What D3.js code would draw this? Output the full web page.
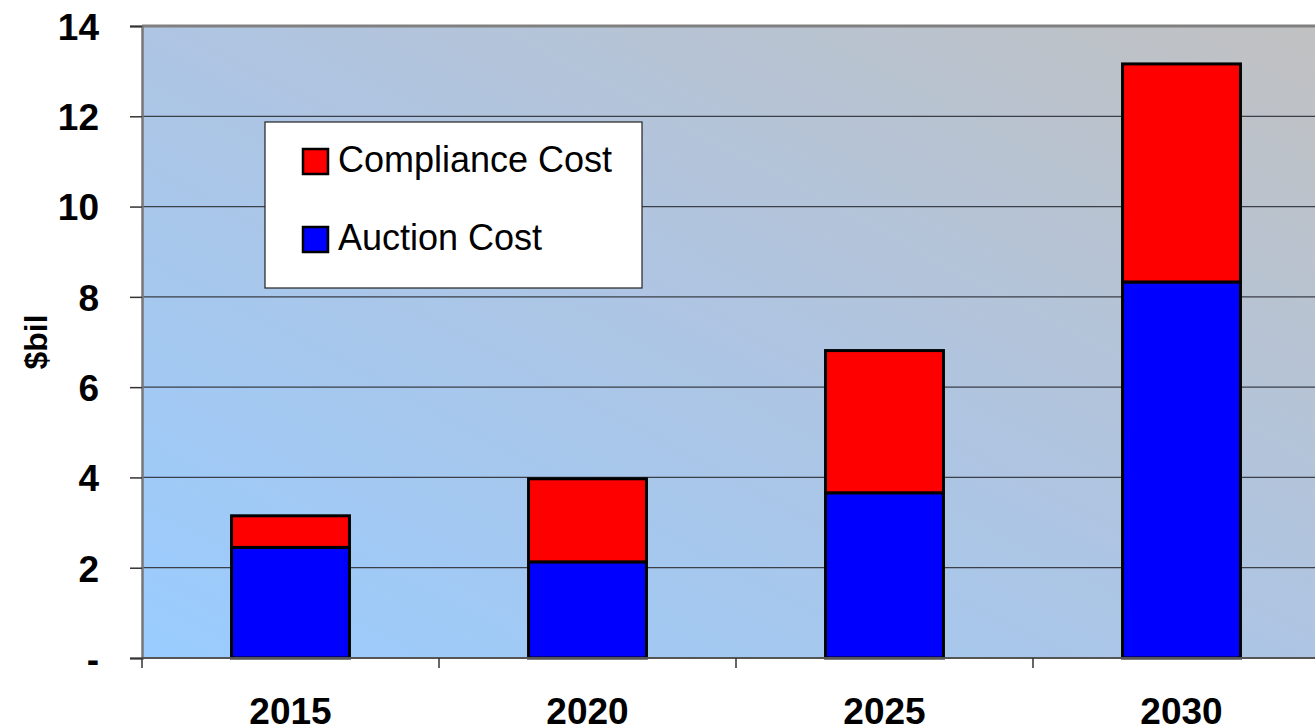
<!DOCTYPE html>
<html>
<head>
<meta charset="utf-8">
<script src="https://cdn.jsdelivr.net/npm/d3@7"></script>
<style>
  body { margin: 0; background: #fff; }
  svg { display: block; font-family: Arial, "Liberation Sans", sans-serif; }
</style>
</head>
<body>
<div id="chart"></div>
<script>
// Data
const years = ["2015", "2020", "2025", "2030"];
const auctionCost = [2.45, 2.13, 3.66, 8.33];
const complianceCost = [0.70, 1.84, 3.15, 4.83];
const yTicks = [0, 2, 4, 6, 8, 10, 12, 14];
const seriesNames = ["Compliance Cost", "Auction Cost"];
const seriesColors = { "Compliance Cost": "#ff0000", "Auction Cost": "#0000ff" };

// Dimensions
const W = 1315, H = 728;
const plot = { left: 142, top: 26, bottom: 658, right: 142 + 4 * 297 };

const svg = d3.select("#chart")
    .append("svg")
    .attr("width", W)
    .attr("height", H);

// Background gradient (bottom-left blue to top-right gray)
const defs = svg.append("defs");
const grad = defs.append("linearGradient")
    .attr("id", "bg")
    .attr("x1", 0).attr("y1", 1)
    .attr("x2", 1).attr("y2", 0);
grad.append("stop").attr("offset", "0%").attr("stop-color", "#99ccff");
grad.append("stop").attr("offset", "50%").attr("stop-color", "#aec5e3");
grad.append("stop").attr("offset", "100%").attr("stop-color", "#c1c1c1");

// Scales
const x = d3.scaleBand()
    .domain(years)
    .range([plot.left, plot.right])
    .paddingInner(0.603)
    .paddingOuter(0.3015);

const y = d3.scaleLinear()
    .domain([0, 14])
    .range([plot.bottom, plot.top]);

// Plot area
svg.append("rect")
    .attr("x", plot.left)
    .attr("y", plot.top)
    .attr("width", plot.right - plot.left)
    .attr("height", plot.bottom - plot.top)
    .attr("fill", "url(#bg)");

// Gridlines
svg.append("g")
    .selectAll("line")
    .data(yTicks.filter(d => d > 0 && d < 14))
    .enter()
    .append("line")
    .attr("x1", plot.left).attr("x2", plot.right)
    .attr("y1", d => y(d)).attr("y2", d => y(d))
    .attr("stroke", "#3a3f48")
    .attr("stroke-width", 1.2);

// Top border
svg.append("line")
    .attr("x1", plot.left).attr("x2", plot.right)
    .attr("y1", y(14)).attr("y2", y(14))
    .attr("stroke", "#808080")
    .attr("stroke-width", 3);

// Stacked bars
const stackData = years.map((yr, i) => ({
    year: yr,
    "Auction Cost": auctionCost[i],
    "Compliance Cost": complianceCost[i]
}));
const stack = d3.stack().keys(["Auction Cost", "Compliance Cost"]);
const layers = stack(stackData);

svg.append("g")
    .selectAll("g")
    .data(layers)
    .enter()
    .append("g")
    .attr("fill", d => seriesColors[d.key])
    .selectAll("rect")
    .data(d => d)
    .enter()
    .append("rect")
    .attr("x", d => x(d.data.year))
    .attr("y", d => y(d[1]))
    .attr("width", x.bandwidth())
    .attr("height", d => y(d[0]) - y(d[1]))
    .attr("stroke", "#000")
    .attr("stroke-width", 3);

// Y axis
const yAxis = d3.axisLeft(y)
    .tickValues(yTicks)
    .tickSize(12)
    .tickPadding(31)
    .tickFormat(d => d === 0 ? "-" : d);

const yG = svg.append("g")
    .attr("transform", `translate(${plot.left},0)`)
    .call(yAxis);
yG.select(".domain").attr("stroke", "#777").attr("stroke-width", 2.5);
yG.selectAll(".tick line").attr("stroke", "#333").attr("stroke-width", 1.5);
yG.selectAll(".tick text")
    .attr("fill", "#000")
    .attr("dy", "0.36em")
    .style("font-size", "37px")
    .style("font-weight", "bold");

// X axis
const xAxis = d3.axisBottom(x)
    .tickSize(0)
    .tickPadding(0);
const xG = svg.append("g")
    .attr("transform", `translate(0,${plot.bottom})`)
    .call(xAxis);
xG.select(".domain").remove();
xG.selectAll(".tick text")
    .attr("fill", "#000")
    .attr("y", 66)
    .attr("dy", 0)
    .style("font-size", "37px")
    .style("font-weight", "bold");

svg.append("line")
    .attr("x1", plot.left).attr("x2", plot.right)
    .attr("y1", plot.bottom).attr("y2", plot.bottom)
    .attr("stroke", "#555")
    .attr("stroke-width", 2);

// Category separator ticks
svg.append("g")
    .selectAll("line")
    .data(years)
    .enter()
    .append("line")
    .attr("x1", d => x(d) - x.step() * x.paddingOuter())
    .attr("x2", d => x(d) - x.step() * x.paddingOuter())
    .attr("y1", plot.bottom)
    .attr("y2", plot.bottom + 10)
    .attr("stroke", "#333")
    .attr("stroke-width", 1.5);

// Y axis label
svg.append("text")
    .attr("transform", `translate(47, ${(plot.top + plot.bottom) / 2}) rotate(-90)`)
    .attr("text-anchor", "middle")
    .style("font-size", "32px")
    .style("font-weight", "bold")
    .text("$bil");

// Legend
const legend = svg.append("g").attr("transform", "translate(265,122)");
legend.append("rect")
    .attr("width", 377)
    .attr("height", 166)
    .attr("fill", "#fff")
    .attr("stroke", "#222")
    .attr("stroke-width", 1.2);

const items = legend.selectAll(".item")
    .data(seriesNames)
    .enter()
    .append("g")
    .attr("class", "item")
    .attr("transform", (d, i) => `translate(0, ${i * 78})`);

items.append("rect")
    .attr("x", 38)
    .attr("y", 27)
    .attr("width", 25)
    .attr("height", 25)
    .attr("fill", d => seriesColors[d])
    .attr("stroke", "#000")
    .attr("stroke-width", 2.5);

items.append("text")
    .attr("x", 73)
    .attr("y", 50)
    .style("font-size", "36px")
    .text(d => d);
</script>
</body>
</html>
